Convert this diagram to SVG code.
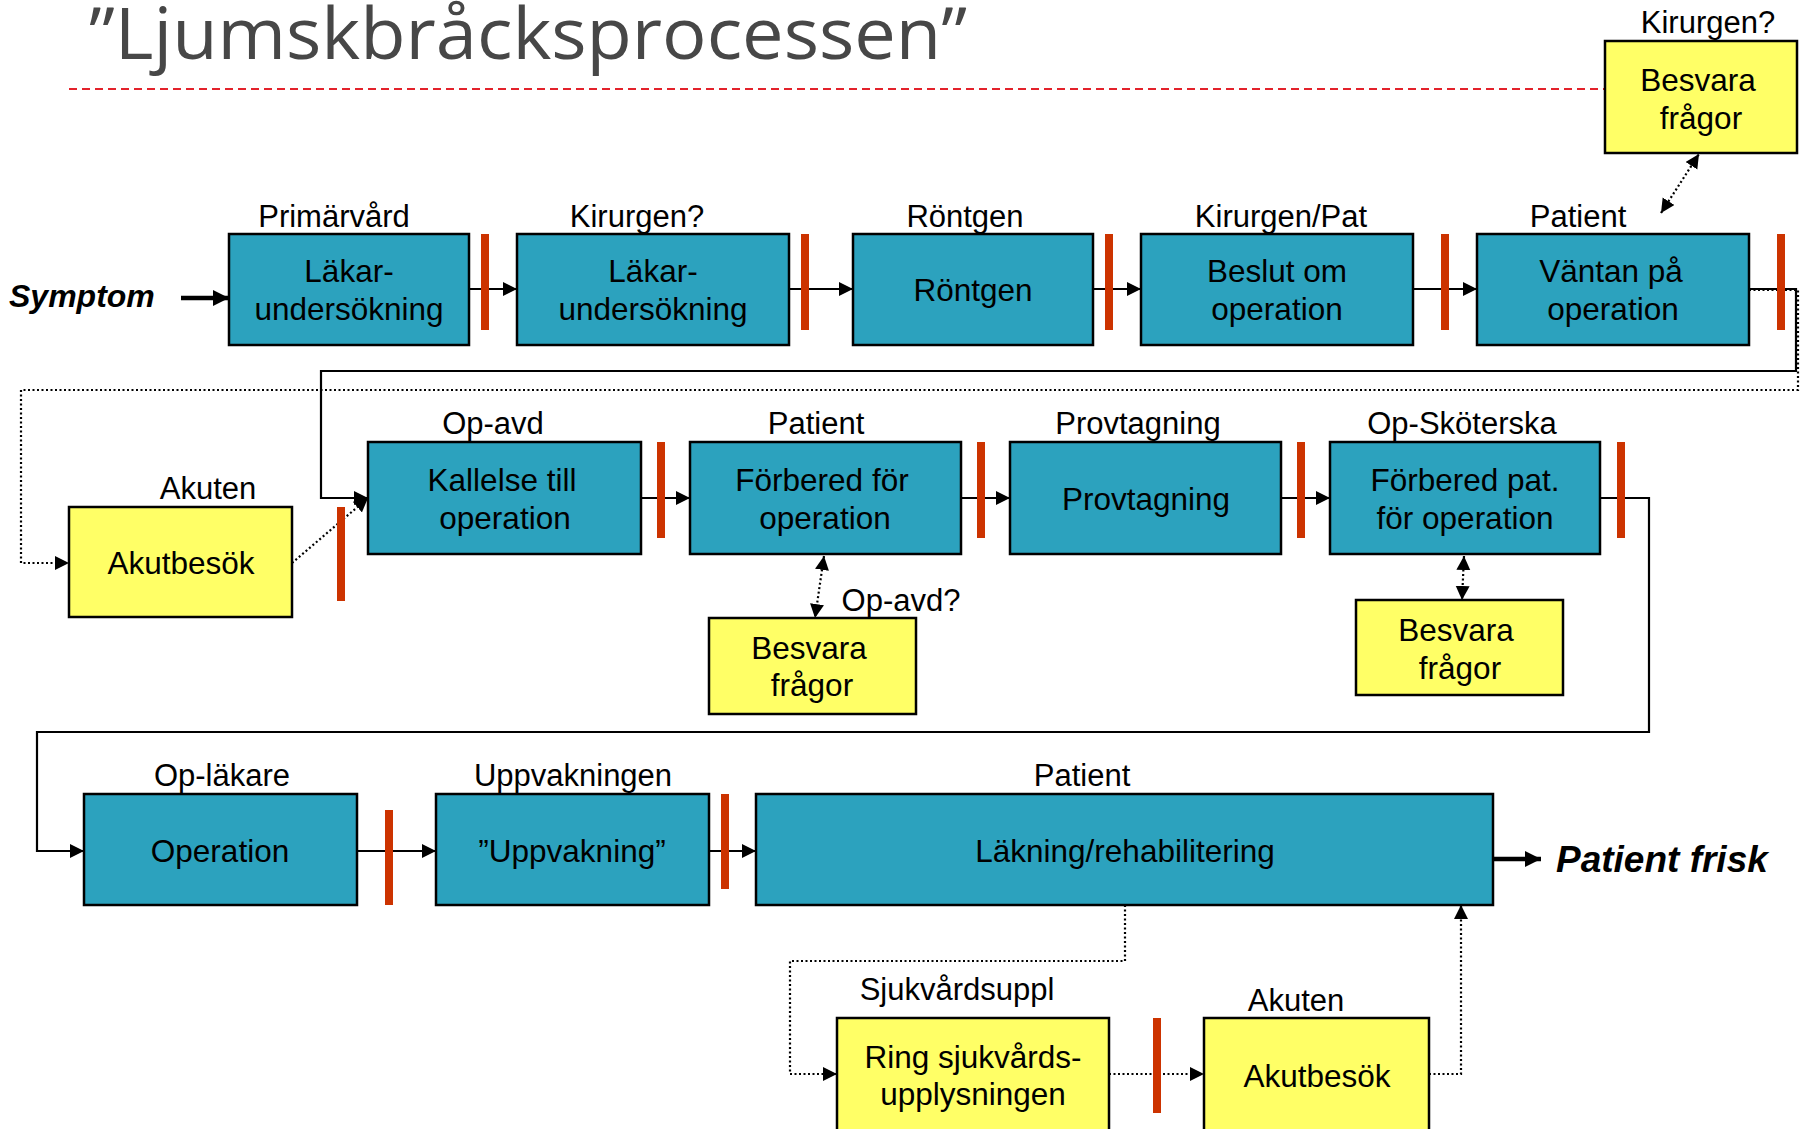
<svg xmlns="http://www.w3.org/2000/svg" width="1805" height="1129" viewBox="0 0 1805 1129">
  <defs>
    <style>
      .proc { fill: #2ca2be; stroke: #000; stroke-width: 2.5; }
      .note { fill: #ffff66; stroke: #000; stroke-width: 2.5; }
      .bar { fill: #cc3300; }
      .t { font-family: "Liberation Sans", Arial, sans-serif; font-size: 31.5px; fill: #000; text-anchor: middle; }
      .lbl { font-family: "Liberation Sans", Arial, sans-serif; font-size: 31px; fill: #000; text-anchor: middle; }
      .big { font-family: "Liberation Sans", Arial, sans-serif; font-weight: bold; font-style: italic; fill: #000; }
      .flow { fill: none; stroke: #000; stroke-width: 2.2; }
      .dot { fill: none; stroke: #000; stroke-width: 2.2; stroke-dasharray: 2 2.5; }
      .thick { fill: none; stroke: #000; stroke-width: 4.5; }
    </style>
    <marker id="ah" markerUnits="userSpaceOnUse" markerWidth="16" markerHeight="16" refX="14" refY="7" orient="auto-start-reverse">
      <path d="M0,0 L14,7 L0,14 z" fill="#000"/>
    </marker>
    <marker id="ahBig" markerUnits="userSpaceOnUse" markerWidth="20" markerHeight="20" refX="16" refY="8" orient="auto">
      <path d="M0,0 L16,8 L0,16 z" fill="#000"/>
    </marker>
  </defs>

  <rect width="1805" height="1129" fill="#fff"/>

  <!-- heading and divider -->
  <text x="89" y="59" font-family="'Open Sans', 'Noto Sans', sans-serif" font-size="71" fill="#474747" textLength="878" lengthAdjust="spacingAndGlyphs">”Ljumskbråcksprocessen”</text>
  <line x1="69" y1="89" x2="1605" y2="89" stroke="#e3222b" stroke-width="2" stroke-dasharray="8 5"/>

  <!-- start / end labels -->
  <text class="big" x="9" y="307" font-size="32">Symptom</text>
  <text class="big" x="1556" y="872" font-size="37">Patient frisk</text>

  <!-- connectors -->
  <g id="connectors">
    <line class="thick" x1="181" y1="298" x2="229" y2="298" marker-end="url(#ahBig)"/>
    <line class="flow" x1="469" y1="289" x2="517" y2="289" marker-end="url(#ah)"/>
    <line class="flow" x1="789" y1="289" x2="853" y2="289" marker-end="url(#ah)"/>
    <line class="flow" x1="1093" y1="289" x2="1141" y2="289" marker-end="url(#ah)"/>
    <line class="flow" x1="1413" y1="289" x2="1477" y2="289" marker-end="url(#ah)"/>
    <path class="dot" d="M1749,290 H1798 V390 H21 V563 H69" marker-end="url(#ah)"/>
    <path class="flow" d="M1749,289 H1796 V371 H321 V498 H368" marker-end="url(#ah)"/>
    <line class="dot" x1="292" y1="563" x2="368" y2="498" marker-end="url(#ah)"/>
    <line class="flow" x1="641" y1="498" x2="690" y2="498" marker-end="url(#ah)"/>
    <line class="flow" x1="961" y1="498" x2="1010" y2="498" marker-end="url(#ah)"/>
    <line class="flow" x1="1281" y1="498" x2="1330" y2="498" marker-end="url(#ah)"/>
    <path class="flow" d="M1600,498 H1649 V732 H37 V851 H84" marker-end="url(#ah)"/>
    <line class="flow" x1="357" y1="851" x2="436" y2="851" marker-end="url(#ah)"/>
    <line class="flow" x1="709" y1="851" x2="756" y2="851" marker-end="url(#ah)"/>
    <line class="thick" x1="1493" y1="859" x2="1541" y2="859" marker-end="url(#ahBig)"/>
    <path class="dot" d="M1125,905 V961 H790 V1074 H837" marker-end="url(#ah)"/>
    <line class="dot" x1="1109" y1="1074" x2="1204" y2="1074" marker-end="url(#ah)"/>
    <path class="dot" d="M1429,1074 H1461 V905" marker-end="url(#ah)"/>
    <line class="dot" x1="1661" y1="213" x2="1699" y2="154" marker-start="url(#ah)" marker-end="url(#ah)"/>
    <line class="dot" x1="824" y1="556" x2="815" y2="618" marker-start="url(#ah)" marker-end="url(#ah)"/>
    <line class="dot" x1="1464" y1="556" x2="1462" y2="600" marker-start="url(#ah)" marker-end="url(#ah)"/>
  </g>

  <!-- hand-off bars -->
  <g id="bars">
    <rect class="bar" x="481" y="234" width="8" height="96"/>
    <rect class="bar" x="801" y="234" width="8" height="96"/>
    <rect class="bar" x="1105" y="234" width="8" height="96"/>
    <rect class="bar" x="1441" y="234" width="8" height="96"/>
    <rect class="bar" x="1777" y="234" width="8" height="96"/>
    <rect class="bar" x="337" y="507" width="8" height="94"/>
    <rect class="bar" x="657" y="442" width="8" height="96"/>
    <rect class="bar" x="977" y="442" width="8" height="96"/>
    <rect class="bar" x="1297" y="442" width="8" height="96"/>
    <rect class="bar" x="1617" y="442" width="8" height="96"/>
    <rect class="bar" x="385" y="810" width="8" height="95"/>
    <rect class="bar" x="721" y="794" width="8" height="95"/>
    <rect class="bar" x="1153" y="1018" width="8" height="95"/>
  </g>

  <!-- row 1 -->
  <g id="n-lakar1">
    <rect class="proc" x="229" y="234" width="240" height="111"/>
    <text class="lbl" x="334" y="227">Primärvård</text>
    <text class="t" x="349" y="282">Läkar-</text>
    <text class="t" x="349" y="320">undersökning</text>
  </g>
  <g id="n-lakar2">
    <rect class="proc" x="517" y="234" width="272" height="111"/>
    <text class="lbl" x="637" y="227">Kirurgen?</text>
    <text class="t" x="653" y="282">Läkar-</text>
    <text class="t" x="653" y="320">undersökning</text>
  </g>
  <g id="n-rontgen">
    <rect class="proc" x="853" y="234" width="240" height="111"/>
    <text class="lbl" x="965" y="227">Röntgen</text>
    <text class="t" x="973" y="301">Röntgen</text>
  </g>
  <g id="n-beslut">
    <rect class="proc" x="1141" y="234" width="272" height="111"/>
    <text class="lbl" x="1281" y="227">Kirurgen/Pat</text>
    <text class="t" x="1277" y="282">Beslut om</text>
    <text class="t" x="1277" y="320">operation</text>
  </g>
  <g id="n-vantan">
    <rect class="proc" x="1477" y="234" width="272" height="111"/>
    <text class="lbl" x="1578" y="227">Patient</text>
    <text class="t" x="1611" y="282">Väntan på</text>
    <text class="t" x="1613" y="320">operation</text>
  </g>
  <g id="n-besvara-top">
    <rect class="note" x="1605" y="41" width="192" height="112"/>
    <text class="lbl" x="1708" y="33">Kirurgen?</text>
    <text class="t" x="1698" y="91">Besvara</text>
    <text class="t" x="1701" y="129">frågor</text>
  </g>

  <!-- row 2 -->
  <g id="n-akut1">
    <rect class="note" x="69" y="507" width="223" height="110"/>
    <text class="lbl" x="208" y="499">Akuten</text>
    <text class="t" x="181" y="574">Akutbesök</text>
  </g>
  <g id="n-kallelse">
    <rect class="proc" x="368" y="442" width="273" height="112"/>
    <text class="lbl" x="493" y="434">Op-avd</text>
    <text class="t" x="502" y="491">Kallelse till</text>
    <text class="t" x="505" y="529">operation</text>
  </g>
  <g id="n-forbered">
    <rect class="proc" x="690" y="442" width="271" height="112"/>
    <text class="lbl" x="816" y="434">Patient</text>
    <text class="t" x="822" y="491">Förbered för</text>
    <text class="t" x="825" y="529">operation</text>
  </g>
  <g id="n-provtagning">
    <rect class="proc" x="1010" y="442" width="271" height="112"/>
    <text class="lbl" x="1138" y="434">Provtagning</text>
    <text class="t" x="1146" y="510">Provtagning</text>
  </g>
  <g id="n-forbered-pat">
    <rect class="proc" x="1330" y="442" width="270" height="112"/>
    <text class="lbl" x="1462" y="434">Op-Sköterska</text>
    <text class="t" x="1465" y="491">Förbered pat.</text>
    <text class="t" x="1465" y="529">för operation</text>
  </g>
  <g id="n-besvara-mid">
    <rect class="note" x="709" y="618" width="207" height="96"/>
    <text class="lbl" x="901" y="611">Op-avd?</text>
    <text class="t" x="809" y="659">Besvara</text>
    <text class="t" x="812" y="696">frågor</text>
  </g>
  <g id="n-besvara-right">
    <rect class="note" x="1356" y="600" width="207" height="95"/>
    <text class="t" x="1456" y="641">Besvara</text>
    <text class="t" x="1460" y="679">frågor</text>
  </g>

  <!-- row 3 -->
  <g id="n-operation">
    <rect class="proc" x="84" y="794" width="273" height="111"/>
    <text class="lbl" x="222" y="786">Op-läkare</text>
    <text class="t" x="220" y="862">Operation</text>
  </g>
  <g id="n-uppvakning">
    <rect class="proc" x="436" y="794" width="273" height="111"/>
    <text class="lbl" x="573" y="786">Uppvakningen</text>
    <text class="t" x="572" y="862">”Uppvakning”</text>
  </g>
  <g id="n-lakning">
    <rect class="proc" x="756" y="794" width="737" height="111"/>
    <text class="lbl" x="1082" y="786">Patient</text>
    <text class="t" x="1125" y="862">Läkning/rehabilitering</text>
  </g>

  <!-- row 4 -->
  <g id="n-ring">
    <rect class="note" x="837" y="1018" width="272" height="125"/>
    <text class="lbl" x="957" y="1000">Sjukvårdsuppl</text>
    <text class="t" x="973" y="1068">Ring sjukvårds-</text>
    <text class="t" x="973" y="1105">upplysningen</text>
  </g>
  <g id="n-akut2">
    <rect class="note" x="1204" y="1018" width="225" height="125"/>
    <text class="lbl" x="1296" y="1011">Akuten</text>
    <text class="t" x="1317" y="1087">Akutbesök</text>
  </g>
</svg>
